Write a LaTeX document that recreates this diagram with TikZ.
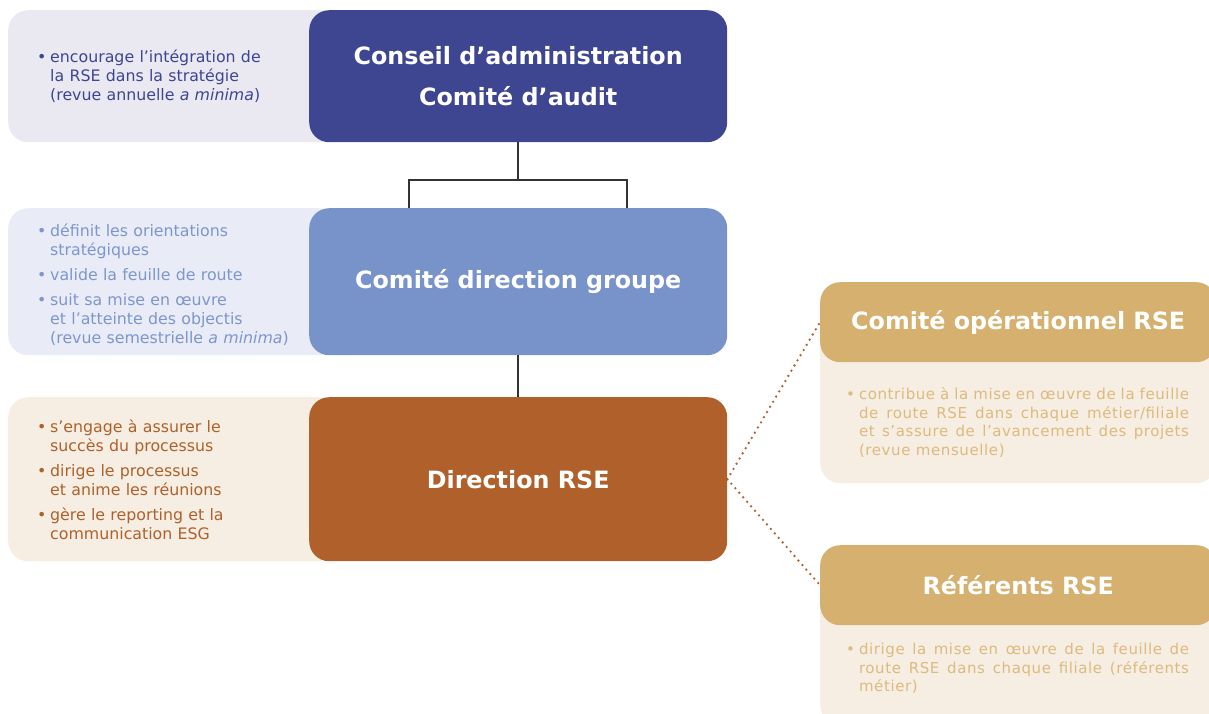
\documentclass[tikz,border=0pt]{standalone}
\usepackage{fontspec}
\setmainfont{DejaVu Sans}
\newfontfamily\espace[LetterSpace=4]{DejaVu Sans}
\usetikzlibrary{positioning}
\definecolor{marine}{RGB}{62,69,145}
\definecolor{lilas}{RGB}{234,233,242}
\definecolor{bleu}{RGB}{120,147,201}
\definecolor{bleuclair}{RGB}{233,236,246}
\definecolor{bleutexte}{RGB}{125,150,204}
\definecolor{brique}{RGB}{176,97,43}
\definecolor{creme}{RGB}{246,238,227}
\definecolor{or}{RGB}{213,176,110}
\definecolor{ortexte}{RGB}{221,186,125}
\definecolor{trait}{RGB}{51,51,51}
\newcommand\puce{\par\hangindent=13pt\hangafter=1\noindent\makebox[13pt][l]{•}}
\newcommand\ecart{\par\vspace{6pt}}
\tikzset{
  fond/.style={rectangle, rounded corners=20pt, anchor=north west, inner xsep=29pt, inner ysep=0pt},
  liste/.style={text width=272pt, align=left, font=\fontsize{15.8}{19}\selectfont},
  titre/.style={rectangle, rounded corners=20pt, anchor=north west, text=white, align=center,
    font=\bfseries\fontsize{23.8}{41}\selectfont, minimum width=418pt, inner sep=0pt},
  entete/.style={rectangle, rounded corners=20pt, anchor=north west, fill=or, text=white,
    font=\bfseries\fontsize{23.8}{28}\selectfont, minimum width=396pt, minimum height=80pt, inner sep=0pt},
  corps/.style={rectangle, rounded corners=20pt, anchor=north west, fill=creme, minimum width=396pt, inner sep=0pt},
  rliste/.style={text width=343pt, align=justify, text=ortexte, font=\espace\fontsize{15}{18.5}\selectfont, inner sep=0pt},
  lien/.style={draw=trait, line width=2pt},
  pointille/.style={draw=brique, line width=2.6pt, line cap=round, dash pattern=on 0pt off 6pt}
}
\begin{document}
\begin{tikzpicture}[x=1pt,y=-1pt]
    \useasboundingbox (0,0) rectangle (1209,713);
    % colonne de gauche
    \node[fond, liste, fill=lilas, text=marine, minimum width=330pt, minimum height=132pt] (ca-txt) at (8,10)
      {\puce encourage l’intégration de\newline la RSE dans la stratégie\newline (revue annuelle \textit{a minima})\ecart};
    \node[titre, fill=marine, minimum height=132pt] (ca) at (309,10) {Conseil d’administration\\Comité d’audit};
    \node[fond, liste, fill=bleuclair, text=bleutexte, minimum width=330pt, minimum height=147pt] (cdg-txt) at (8,208)
      {\puce définit les orientations\newline stratégiques\ecart
       \puce valide la feuille de route\ecart
       \puce suit sa mise en œuvre\newline et l’atteinte des objectis\newline (revue semestrielle \textit{a minima})\par};
    \node[titre, fill=bleu, minimum height=147pt] (cdg) at (309,208) {Comité direction groupe};
    \node[fond, liste, fill=creme, text=brique, minimum width=330pt, minimum height=164pt] (drse-txt) at (8,397)
      {\puce s’engage à assurer le\newline succès du processus\ecart
       \puce dirige le processus\newline et anime les réunions\ecart
       \puce gère le reporting et la\newline communication ESG\ecart};
    \node[titre, fill=brique, minimum height=164pt] (drse) at (309,397) {Direction RSE};
    % liaisons
    \coordinate (g) at (409,180);
    \coordinate (d) at (627,180);
    \draw[lien] (ca.south) -- (ca.south |- g);
    \draw[lien] (g |- cdg.north) -- (g) -- (d) -- (d |- cdg.north);
    \draw[lien] (cdg.south) -- (drse.north);
    % colonne de droite
    \node[corps, minimum height=201pt] (co-fond) at (820,282) {};
    \node[entete] (co) at (820,282) {Comité opérationnel RSE};
    \node[rliste] (co-txt) at (1017.5,419)
      {\puce contribue à la mise en œuvre de la feuille\linebreak de route RSE dans chaque métier/filiale\linebreak et s’assure de l’avancement des projets\linebreak (revue mensuelle)\par};
    \node[corps, minimum height=180pt] (ref-fond) at (820,545) {};
    \node[entete] (ref) at (820,545) {Référents RSE};
    \node[rliste] (ref-txt) at (1017.5,665)
      {\puce dirige la mise en œuvre de la feuille de\linebreak route RSE dans chaque filiale (référents\linebreak métier)\par};
    \draw[pointille] (drse.east) -- (co.west);
    \draw[pointille] (drse.east) -- (ref.west);
\end{tikzpicture}
\end{document}
